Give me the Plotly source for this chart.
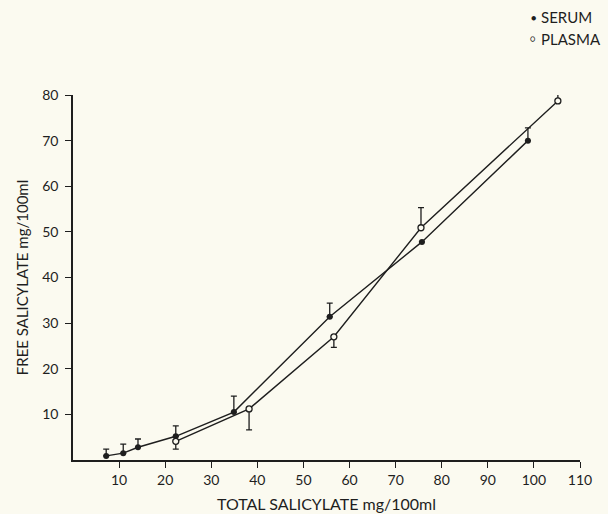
import plotly.graph_objects as go

# Data
serum_x = [7.2, 10.9, 14.1, 22.3, 34.9, 55.7, 75.7, 98.7]
serum_y = [0.9, 1.5, 2.8, 5.2, 10.5, 31.4, 47.8, 70.0]
serum_err_plus = [1.5, 2.0, 1.8, 2.3, 3.5, 3.0, 0.0, 2.8]
serum_err_minus = [0, 0, 0, 0, 0, 0, 0, 0]

plasma_x = [22.3, 38.2, 56.6, 75.5, 105.2]
plasma_y = [4.1, 11.2, 27.0, 50.9, 78.7]
plasma_err_plus = [0, 0, 0, 4.4, 2.7]
plasma_err_minus = [1.7, 4.6, 2.3, 0, 0]

x_ticks = [10, 20, 30, 40, 50, 60, 70, 80, 90, 100, 110]
y_ticks = [10, 20, 30, 40, 50, 60, 70, 80]

legend_labels = ["SERUM", "PLASMA"]

ink = "#1e1e1e"
bg = "#fbfaf0"
font_family = "Lato, 'DejaVu Sans', sans-serif"

fig = go.Figure()

fig.add_trace(go.Scatter(
    x=serum_x, y=serum_y, mode="lines+markers", name=legend_labels[0],
    line=dict(color=ink, width=1.4),
    marker=dict(symbol="circle", size=6, color=ink),
    error_y=dict(type="data", symmetric=False, array=serum_err_plus,
                 arrayminus=serum_err_minus, color=ink, thickness=1.3, width=3),
    cliponaxis=False, showlegend=False,
))

fig.add_trace(go.Scatter(
    x=plasma_x, y=plasma_y, mode="lines+markers", name=legend_labels[1],
    line=dict(color=ink, width=1.4),
    marker=dict(symbol="circle", size=6, color=bg, line=dict(color=ink, width=1.3)),
    error_y=dict(type="data", symmetric=False, array=plasma_err_plus,
                 arrayminus=plasma_err_minus, color=ink, thickness=1.3, width=3),
    cliponaxis=False, showlegend=False,
))

# manual legend (marker glyph + label) at top right
leg_items = [("●", legend_labels[0], 17), ("○", legend_labels[1], 39)]
annotations = []
for sym, lab, ypx in leg_items:
    yp = 1 + (95 - ypx) / 365.0
    annotations.append(dict(text=sym, xref="paper", yref="paper",
                            x=(533 - 73) / 507.0, y=yp, xanchor="center", yanchor="middle",
                            showarrow=False, font=dict(size=9, color=ink)))
    annotations.append(dict(text=lab, xref="paper", yref="paper",
                            x=(539 - 73) / 507.0, y=yp, xanchor="left", yanchor="middle",
                            showarrow=False, font=dict(size=15, color=ink)))

fig.update_layout(
    width=608, height=514,
    paper_bgcolor=bg, plot_bgcolor=bg,
    margin=dict(l=73, r=28, t=95, b=54),
    font=dict(family=font_family, size=14, color=ink),
    showlegend=False,
    annotations=annotations,
)

fig.update_xaxes(
    range=[0, 110], tickvals=x_ticks, ticktext=[str(v) for v in x_ticks],
    showline=True, linecolor=ink, linewidth=1.5, showgrid=False, zeroline=False,
    ticks="outside", ticklen=6, tickcolor=ink, tickwidth=1.3,
    tickfont=dict(size=14), automargin=False,
    title=dict(text="TOTAL SALICYLATE mg/100ml", standoff=12, font=dict(size=16)),
)
fig.update_yaxes(
    range=[0, 80], tickvals=y_ticks, ticktext=[str(v) for v in y_ticks],
    showline=True, linecolor=ink, linewidth=1.5, showgrid=False, zeroline=False,
    ticks="outside", ticklen=6, tickcolor=ink, tickwidth=1.3,
    tickfont=dict(size=14), automargin=False, ticklabelstandoff=4,
    title=dict(text="FREE SALICYLATE mg/100ml", standoff=10, font=dict(size=15)),
)

fig.write_html(
    "out.html",
    config={"displayModeBar": False},
    post_script="document.body.style.margin='0';document.body.style.background='%s';" % bg,
)
